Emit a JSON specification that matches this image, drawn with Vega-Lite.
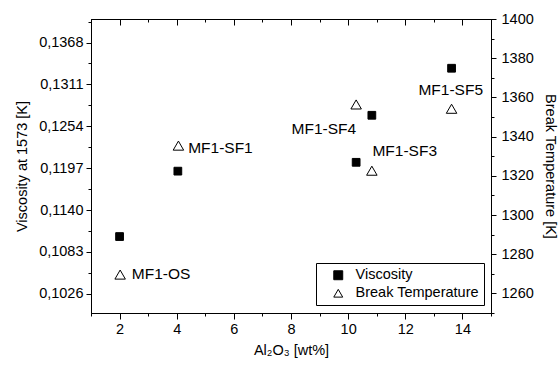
{
  "$schema": "https://vega.github.io/schema/vega-lite/v6.json",
  "width": 400,
  "height": 294,
  "autosize": {"type": "none"},
  "padding": {"left": 91, "top": 19, "right": 67, "bottom": 54},
  "background": "white",
  "config": {
    "font": "Liberation Sans",
    "view": {"stroke": "black", "strokeWidth": 1},
    "axis": {
      "domainColor": "black", "tickColor": "black", "labelColor": "black", "titleColor": "black",
      "labelFont": "Liberation Sans", "titleFont": "Liberation Sans",
      "labelFontSize": 14.5, "titleFontSize": 14.5, "titleFontWeight": "normal",
      "grid": false, "domainWidth": 1, "tickWidth": 1, "labelFlush": false, "labelOverlap": false
    },
    "legend": {
      "labelFont": "Liberation Sans", "labelFontSize": 14.5, "labelColor": "black",
      "strokeColor": "black", "padding": 5, "fillColor": "white",
      "symbolSize": 80, "symbolOffset": 10, "labelOffset": 10, "rowPadding": 3
    }
  },
  "datasets": {
    "visc": [
      {"al2o3": 2.0, "viscosity": 0.1104, "series": "Viscosity"},
      {"al2o3": 4.04, "viscosity": 0.1193, "series": "Viscosity"},
      {"al2o3": 10.28, "viscosity": 0.1205, "series": "Viscosity"},
      {"al2o3": 10.83, "viscosity": 0.1269, "series": "Viscosity"},
      {"al2o3": 13.62, "viscosity": 0.1333, "series": "Viscosity"}
    ],
    "temp": [
      {"al2o3": 2.02, "temp": 1269.6, "series": "Break Temperature"},
      {"al2o3": 4.06, "temp": 1335.4, "series": "Break Temperature"},
      {"al2o3": 10.28, "temp": 1356.4, "series": "Break Temperature"},
      {"al2o3": 10.83, "temp": 1322.6, "series": "Break Temperature"},
      {"al2o3": 13.62, "temp": 1354.2, "series": "Break Temperature"}
    ],
    "labels": [
      {"label": "MF1-OS", "lx": 2.43, "ly": 0.10536},
      {"label": "MF1-SF1", "lx": 4.4, "ly": 0.1224},
      {"label": "MF1-SF4", "lx": 8.02, "ly": 0.1251},
      {"label": "MF1-SF3", "lx": 10.85, "ly": 0.122},
      {"label": "MF1-SF5", "lx": 12.46, "ly": 0.1304}
    ]
  },
  "layer": [
    {
      "data": {"name": "visc"},
      "mark": {"type": "point", "filled": true, "size": 60, "stroke": "black", "strokeWidth": 1, "opacity": 1},
      "encoding": {
        "x": {"field": "al2o3", "type": "quantitative",
          "scale": {"domain": [1, 15], "nice": false, "zero": false},
          "axis": {"orient": "bottom", "values": [2, 4, 6, 8, 10, 12, 14], "tickSize": 6, "labelPadding": 3,
            "title": "Al₂O₃ [wt%]", "titlePadding": 8}},
        "y": {"field": "viscosity", "type": "quantitative",
          "scale": {"domain": [0.1, 0.14], "nice": false, "zero": false},
          "axis": {"orient": "left", "values": [0.1026, 0.1083, 0.114, 0.1197, 0.1254, 0.1311, 0.1368],
            "tickSize": 5, "labelPadding": 3,
            "labelExpr": "replace(format(datum.value, '.4f'), '.', ',')",
            "title": "Viscosity at 1573 [K]", "titlePadding": 9}},
        "shape": {"field": "series", "type": "nominal",
          "scale": {"domain": ["Viscosity", "Break Temperature"], "range": ["square", "triangle-up"]},
          "legend": {"orient": "none", "legendX": 225, "legendY": 244, "title": null,
            "symbolFillColor": "white", "symbolStrokeColor": "black", "symbolStrokeWidth": 1,
            "encode": {"symbols": {"stroke": {"value": "black"}, "strokeWidth": {"value": 1}}}}},
        "fill": {"field": "series", "type": "nominal",
          "scale": {"domain": ["Viscosity", "Break Temperature"], "range": ["black", "white"]},
          "legend": {"orient": "none", "legendX": 225, "legendY": 244, "title": null,
            "symbolFillColor": "white", "symbolStrokeColor": "black", "symbolStrokeWidth": 1,
            "encode": {"symbols": {"stroke": {"value": "black"}, "strokeWidth": {"value": 1}}}}}
      }
    },
    {
      "data": {"name": "temp"},
      "mark": {"type": "point", "shape": "triangle-up", "filled": true, "size": 110, "fill": "white", "stroke": "black", "strokeWidth": 1, "opacity": 1},
      "encoding": {
        "x": {"field": "al2o3", "type": "quantitative",
          "scale": {"domain": [1, 15], "nice": false, "zero": false}, "axis": null},
        "y": {"field": "temp", "type": "quantitative",
          "scale": {"domain": [1250, 1400], "nice": false, "zero": false},
          "axis": {"orient": "right", "values": [1260, 1280, 1300, 1320, 1340, 1360, 1380, 1400],
            "format": "d", "tickSize": 5, "labelPadding": 5,
            "title": "Break Temperature [K]", "titlePadding": 9}}
      }
    },
    {
      "data": {"name": "labels"},
      "mark": {"type": "text", "align": "left", "baseline": "middle", "fontSize": 15.5, "font": "Liberation Sans", "color": "black"},
      "encoding": {
        "x": {"field": "lx", "type": "quantitative",
          "scale": {"domain": [1, 15], "nice": false, "zero": false}, "axis": null},
        "y": {"field": "ly", "type": "quantitative",
          "scale": {"domain": [0.1, 0.14], "nice": false, "zero": false}, "axis": null},
        "text": {"field": "label", "type": "nominal"}
      }
    },
    {
      "data": {"name": "visc"},
      "mark": {"type": "point", "opacity": 0},
      "encoding": {
        "x": {"field": "al2o3", "type": "quantitative",
          "scale": {"domain": [1, 15], "nice": false, "zero": false},
          "axis": {"orient": "bottom", "values": [1, 3, 5, 7, 9, 11, 13, 15], "tickSize": 3, "labels": false, "domain": false, "title": null}},
        "y": {"field": "viscosity", "type": "quantitative",
          "scale": {"domain": [0.1, 0.14], "nice": false, "zero": false},
          "axis": {"orient": "left", "values": [0.10545, 0.11115, 0.11685, 0.12255, 0.12825, 0.13395, 0.13965],
            "tickSize": 3, "labels": false, "domain": false, "title": null}}
      }
    },
    {
      "data": {"name": "temp"},
      "mark": {"type": "point", "opacity": 0},
      "encoding": {
        "x": {"field": "al2o3", "type": "quantitative",
          "scale": {"domain": [1, 15], "nice": false, "zero": false},
          "axis": {"orient": "top", "values": [2, 4, 6, 8, 10, 12, 14], "tickSize": -6, "labels": false, "domain": true, "title": null}},
        "y": {"field": "temp", "type": "quantitative",
          "scale": {"domain": [1250, 1400], "nice": false, "zero": false},
          "axis": {"orient": "right", "values": [1250, 1270, 1290, 1310, 1330, 1350, 1370, 1390],
            "tickSize": 3, "labels": false, "domain": false, "title": null}}
      }
    },
    {
      "data": {"name": "temp"},
      "mark": {"type": "point", "opacity": 0},
      "encoding": {
        "x": {"field": "al2o3", "type": "quantitative",
          "scale": {"domain": [1, 15], "nice": false, "zero": false},
          "axis": {"orient": "top", "values": [1, 3, 5, 7, 9, 11, 13, 15], "tickSize": -3, "labels": false, "domain": false, "title": null}},
        "y": {"field": "temp", "type": "quantitative",
          "scale": {"domain": [1250, 1400], "nice": false, "zero": false}, "axis": null}
      }
    }
  ],
  "resolve": {
    "scale": {"x": "independent", "y": "independent"},
    "axis": {"x": "independent", "y": "independent"}
  }
}
